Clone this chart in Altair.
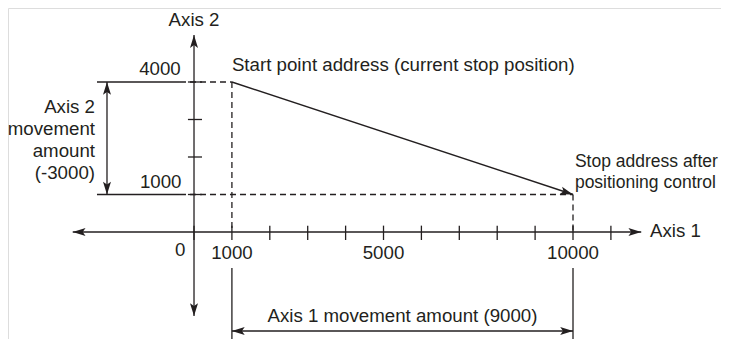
import math
import altair as alt
import pandas as pd

# ---- values ----
x_ticks = [0, 1000, 2000, 3000, 4000, 5000, 6000, 7000, 8000, 9000, 10000, 11000]
y_ticks = [1000, 2000, 3000, 4000]
x_labels = [1000, 5000, 10000]
y_labels = [1000, 4000]
start_pt = [1000, 4000]
stop_pt = [10000, 1000]
axis1_move = stop_pt[0] - start_pt[0]   # 9000
axis2_move = stop_pt[1] - start_pt[1]   # -3000

# ---- layout (data-unit coordinates) ----
W, H = 713, 331
kx = 713 / 18813
ky = 331 / 8826
X0 = -4908
X1 = X0 + W / kx
Y1 = 5973
Y0 = Y1 - H / ky

INK = "#231f20"
FONT = "Liberation Sans"
FS = 18.7
FS_SMALL = 17.5

xs = alt.Scale(domain=[X0, X1], nice=False, zero=False)
ys = alt.Scale(domain=[Y0, Y1], nice=False, zero=False)
X = alt.X("x:Q", scale=xs, axis=None)
Y = alt.Y("y:Q", scale=ys, axis=None)

x_ax = [-3200, 11800]
y_ax = [-2240, 5250]
dimL_x = -2296
dimB_y = -2640
ext_left = -2560
ext_end = -370

solid = [
    (x_ax[0], 0, x_ax[1], 0),
    (0, y_ax[0], 0, y_ax[1]),
    (ext_left, start_pt[1], ext_end, start_pt[1]),
    (ext_left, stop_pt[1], ext_end, stop_pt[1]),
    (start_pt[0], -960, start_pt[0], -3200),
    (stop_pt[0], -960, stop_pt[0], -3200),
    (dimL_x, start_pt[1], dimL_x, stop_pt[1]),
    (start_pt[0], dimB_y, stop_pt[0], dimB_y),
]
for t in x_ticks:
    solid.append((t, 170, t, -213))
for t in y_ticks:
    solid.append((-160, t, 211, t))

dashed = [
    (ext_end, start_pt[1], start_pt[0], start_pt[1]),
    (ext_end, stop_pt[1], stop_pt[0], stop_pt[1]),
    (start_pt[0], start_pt[1], start_pt[0], 0),
    (stop_pt[0], stop_pt[1], stop_pt[0], 0),
]

def segdf(rows):
    return pd.DataFrame(rows, columns=["x", "y", "x2", "y2"])

solid_layer = alt.Chart(segdf(solid)).mark_rule(color=INK, strokeWidth=1.3).encode(
    x=X, y=Y, x2="x2:Q", y2="y2:Q")
dash_layer = alt.Chart(segdf(dashed)).mark_rule(color=INK, strokeWidth=1.3, strokeDash=[6, 4]).encode(
    x=X, y=Y, x2="x2:Q", y2="y2:Q")
main_line = alt.Chart(segdf([(start_pt[0], start_pt[1], stop_pt[0], stop_pt[1])])).mark_rule(
    color=INK, strokeWidth=1.5).encode(x=X, y=Y, x2="x2:Q", y2="y2:Q")

dxp = (stop_pt[0] - start_pt[0]) * kx
dyp = -(stop_pt[1] - start_pt[1]) * ky
slope_ang = math.degrees(math.atan2(dxp, -dyp)) % 360

arrows = pd.DataFrame([
    (x_ax[1], 0, 90), (x_ax[0], 0, 270),
    (0, y_ax[1], 0), (0, y_ax[0], 180),
    (dimL_x, start_pt[1], 0), (dimL_x, stop_pt[1], 180),
    (start_pt[0], dimB_y, 270), (stop_pt[0], dimB_y, 90),
    (stop_pt[0], stop_pt[1], slope_ang),
], columns=["x", "y", "a"])
arrow_shape = "M0,0 L0.5,1.6 L0,1.25 L-0.5,1.6 Z"
arrow_layer = alt.Chart(arrows).mark_point(
    shape=arrow_shape, filled=True, color=INK, opacity=1, size=256, strokeWidth=0
).encode(x=X, y=Y, angle=alt.Angle("a:Q", scale=None))

def text_layer(rows, align, fs=FS):
    df = pd.DataFrame(rows, columns=["x", "y", "t"])
    return alt.Chart(df).mark_text(
        align=align, baseline="middle", font=FONT, fontSize=fs, color=INK
    ).encode(x=X, y=Y, text="t:N")

right_texts = [
    (-350, 4347, str(y_labels[1])),
    (-330, 1333, str(y_labels[0])),
    (-230, -480, "0"),
    (-2612, 3333, "Axis 2"),
    (-2612, 2747, "movement"),
    (-2612, 2160, "amount"),
    (-2612, 1573, f"({axis2_move})"),
]
center_texts = [(v, -560, str(v)) for v in x_labels] + [
    (0, 5650, "Axis 2"),
    (5500, -2240, f"Axis 1 movement amount ({axis1_move})"),
]
left_texts = [
    (start_pt[0], 4453, "Start point address (current stop position)"),
    (12032, 30, "Axis 1"),
]
stop_texts = [
    (stop_pt[0] + 50, 1867, "Stop address after"),
    (stop_pt[0] + 50, 1307, "positioning control"),
]

chart = alt.layer(
    dash_layer, solid_layer, main_line, arrow_layer,
    text_layer(right_texts, "right"),
    text_layer(center_texts, "center"),
    text_layer(left_texts, "left"),
    text_layer(stop_texts, "left", FS_SMALL),
).properties(
    width=W, height=H, padding=0, autosize=alt.AutoSizeParams(type="none")
).configure_view(stroke=None).configure(background="white")

chart.save("out.html", embed_options={"renderer": "svg", "actions": False})
